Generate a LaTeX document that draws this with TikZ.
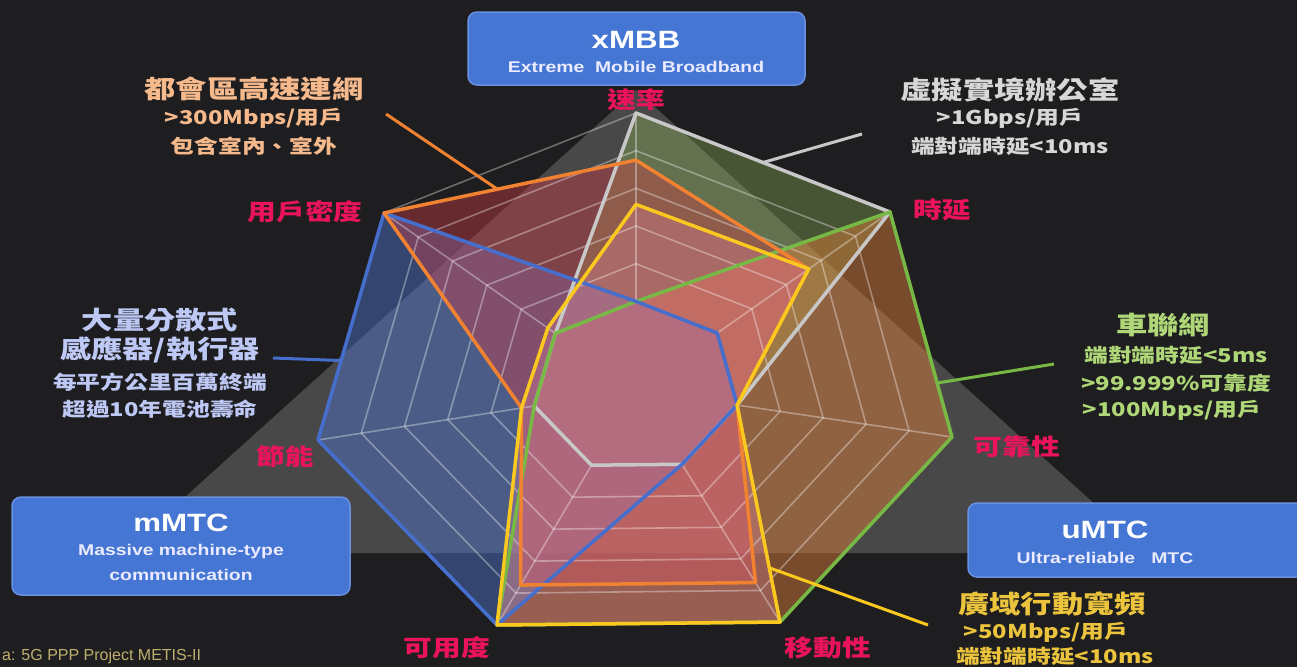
\documentclass[tikz,border=0pt]{standalone}
\usepackage{fontspec}
\setmainfont{Liberation Sans}
\newfontfamily\cjk{Noto Sans CJK TC}[FakeStretch=1.25]
\newfontfamily\lsans{Liberation Sans}[FakeStretch=1.25]
\usetikzlibrary{calc}
\definecolor{bgc}{RGB}{30,30,32}
\definecolor{tri}{RGB}{72,72,72}
\definecolor{boxc}{RGB}{70,118,212}
\definecolor{boxe}{RGB}{105,145,225}
\definecolor{labc}{RGB}{235,20,90}
\definecolor{grl}{RGB}{200,200,200}
\definecolor{grf}{RGB}{150,190,90}
\definecolor{gnl}{RGB}{120,185,70}
\definecolor{gnf}{RGB}{230,130,60}
\definecolor{bll}{RGB}{70,110,205}
\definecolor{blf}{RGB}{80,120,210}
\definecolor{orl}{RGB}{240,130,50}
\definecolor{orf}{RGB}{210,60,70}
\definecolor{yel}{RGB}{250,200,30}
\definecolor{yef}{RGB}{230,140,170}
\definecolor{ort}{RGB}{245,185,140}
\definecolor{grt}{RGB}{215,215,215}
\definecolor{gnt}{RGB}{175,215,120}
\definecolor{blt}{RGB}{190,200,245}
\definecolor{yet}{RGB}{235,195,60}
\definecolor{srcc}{RGB}{190,175,110}
\begin{document}
\begin{tikzpicture}[x=1pt,y=-1pt,
  box/.style={draw=boxe,line width=1.5pt,fill=boxc,rounded corners=9pt},
  btitle/.style={text=white,font=\lsans\bfseries\fontsize{25}{27}\selectfont,inner sep=0pt},
  bsub/.style={text=white!92!blue,font=\lsans\bfseries\fontsize{15.5}{17}\selectfont,inner sep=0pt},
  lab/.style={text=labc,font=\cjk\bfseries\fontsize{23}{25}\selectfont,inner sep=0pt},
  atitle/.style={font=\cjk\bfseries\fontsize{25}{28}\selectfont,inner sep=0pt},
  asub/.style={font=\cjk\bfseries\fontsize{19}{21}\selectfont,inner sep=0pt},
  web/.style={draw=white,draw opacity=.35,line width=1.6pt},
  ser/.style={line width=3.5pt,line join=round},
  lead/.style={line width=3pt}]
\useasboundingbox (0,0) rectangle (1297,667);
\fill[bgc] (0,0) rectangle (1297,667);
% background triangle
\fill[tri] (636,90) -- (1149,553) -- (123,553) -- cycle;
% radar geometry
\coordinate (C) at (636,390);
\coordinate (V0) at (636,113);
\coordinate (V1) at (890,212);
\coordinate (V2) at (952,437);
\coordinate (V3) at (780,622);
\coordinate (V4) at (497,625);
\coordinate (V5) at (318,440);
\coordinate (V6) at (384,213);
\foreach \f [count=\k from 0] in {1,1,.32,.32,.32,.32,.32} \coordinate (gr\k) at ($(C)!\f!(V\k)$);
\foreach \f [count=\k from 0] in {.32,1,1,1,1,.32,.32} \coordinate (gn\k) at ($(C)!\f!(V\k)$);
\foreach \f [count=\k from 0] in {.32,.32,.32,.32,1,1,1} \coordinate (bl\k) at ($(C)!\f!(V\k)$);
\foreach \f [count=\k from 0] in {.83,.68,.32,.83,.83,.36,1} \coordinate (or\k) at ($(C)!\f!(V\k)$);
\foreach \f [count=\k from 0] in {.67,.68,.32,1,1,.36,.35} \coordinate (ye\k) at ($(C)!\f!(V\k)$);
% fills
\fill[grf,opacity=.35] (gr0)--(gr1)--(gr2)--(gr3)--(gr4)--(gr5)--(gr6)--cycle;
\fill[gnf,opacity=.45] (gn0)--(gn1)--(gn2)--(gn3)--(gn4)--(gn5)--(gn6)--cycle;
\fill[blf,opacity=.45] (bl0)--(bl1)--(bl2)--(bl3)--(bl4)--(bl5)--(bl6)--cycle;
\fill[orf,opacity=.4] (or0)--(or1)--(or2)--(or3)--(or4)--(or5)--(or6)--cycle;
\fill[yef,opacity=.3] (ye0)--(ye1)--(ye2)--(ye3)--(ye4)--(ye5)--(ye6)--cycle;
% web
\foreach \f in {.32,.456,.592,.728,.864,1}
  \draw[web] ($(C)!\f!(V0)$)--($(C)!\f!(V1)$)--($(C)!\f!(V2)$)--($(C)!\f!(V3)$)--($(C)!\f!(V4)$)--($(C)!\f!(V5)$)--($(C)!\f!(V6)$)--cycle;
\foreach \k in {0,...,6} \draw[web] ($(C)!.32!(V\k)$) -- (V\k);
% outlines
\draw[ser,grl] (gr0)--(gr1)--(gr2)--(gr3)--(gr4)--(gr5)--(gr6)--cycle;
\draw[ser,gnl] (gn0)--(gn1)--(gn2)--(gn3)--(gn4)--(gn5)--(gn6)--cycle;
\draw[ser,bll] (bl0)--(bl1)--(bl2)--(bl3)--(bl4)--(bl5)--(bl6)--cycle;
\draw[ser,orl] (or0)--(or1)--(or2)--(or3)--(or4)--(or5)--(or6)--cycle;
\draw[ser,yel] (ye0)--(ye1)--(ye2)--(ye3)--(ye4)--(ye5)--(ye6)--cycle;
% axis labels
\node[lab] (l0) at (636,100) {速率};
\node[lab] (l1) at (942,210) {時延};
\node[lab] (l2) at (1017,447) {可靠性};
\node[lab] (l3) at (828,648) {移動性};
\node[lab] (l4) at (447,648) {可用度};
\node[lab] (l5) at (285,457) {節能};
\node[lab] (l6) at (305,212) {用戶密度};
% boxes
\node[box,minimum width=337pt,minimum height=73pt] (bx) at (636.5,48.5) {};
\node[btitle] (bxt) at (636,40) {xMBB};
\node[bsub] (bxs) at (636,67) {Extreme\ \ Mobile Broadband};
\node[box,minimum width=338pt,minimum height=98pt] (bm) at (181,546) {};
\node[btitle] (bmt) at (181,523) {mMTC};
\node[bsub] (bms1) at (181,551) {Massive machine-type};
\node[bsub] (bms2) at (181,575) {communication};
\node[box,minimum width=340pt,minimum height=74pt] (bu) at (1138,540) {};
\node[btitle] (but) at (1105,530) {uMTC};
\node[bsub] (bus) at (1105,558) {Ultra-reliable\ \ \ MTC};
% annotations
\node[atitle,text=ort] (a1) at (254,89) {都會區高速連網};
\node[asub,text=ort] (a1b) at (254,118) {>300Mbps/用戶};
\node[asub,text=ort] (a1c) at (254,146) {包含室內、室外};
\node[atitle,text=grt] (a2) at (1010,90) {虛擬實境辦公室};
\node[asub,text=grt] (a2b) at (1010,118) {>1Gbps/用戶};
\node[asub,text=grt] (a2c) at (1010,146) {端對端時延<10ms};
\node[atitle,text=gnt] (a3) at (1163,325) {車聯網};
\node[asub,text=gnt] (a3b) at (1176,355) {端對端時延<5ms};
\node[asub,text=gnt] (a3c) at (1176,383) {>99.999\%可靠度};
\node[asub,text=gnt] (a3d) at (1172,410) {>100Mbps/用戶};
\node[atitle,text=blt] (a4) at (160,320) {大量分散式};
\node[atitle,text=blt] (a4b) at (160,350) {感應器/執行器};
\node[asub,text=blt] (a4c) at (160,382) {每平方公里百萬終端};
\node[asub,text=blt] (a4d) at (160,409) {超過10年電池壽命};
\node[atitle,text=yet] (a5) at (1052,604) {廣域行動寬頻};
\node[asub,text=yet] (a5b) at (1046,632) {>50Mbps/用戶};
\node[asub,text=yet] (a5c) at (1055,656) {端對端時延<10ms};
\node[anchor=south west,inner sep=0pt,text=srcc,font=\fontsize{16}{18}\selectfont] (src) at (2,664) {a: 5G PPP Project METIS-II};
% leaders
\coordinate (p1) at (386,114);
\coordinate (q1) at ($(or6)!.45!(or0)$);
\draw[lead,orl] (p1) -- (q1);
\coordinate (p2) at (862,134);
\coordinate (q2) at ($(gr0)!.5!(gr1)$);
\draw[lead,grl] (p2) -- (q2);
\coordinate (p3) at (1054,364);
\coordinate (q3) at ($(gn1)!.76!(gn2)$);
\draw[lead,gnl] (p3) -- (q3);
\coordinate (p4) at (273,358);
\coordinate (q4) at ($(bl6)!.65!(bl5)$);
\draw[lead,bll] (p4) -- (q4);
\coordinate (p5) at (928,625);
\coordinate (q5) at ($(ye2)!.75!(ye3)$);
\draw[lead,yel] (p5) -- (q5);
\end{tikzpicture}
\end{document}
